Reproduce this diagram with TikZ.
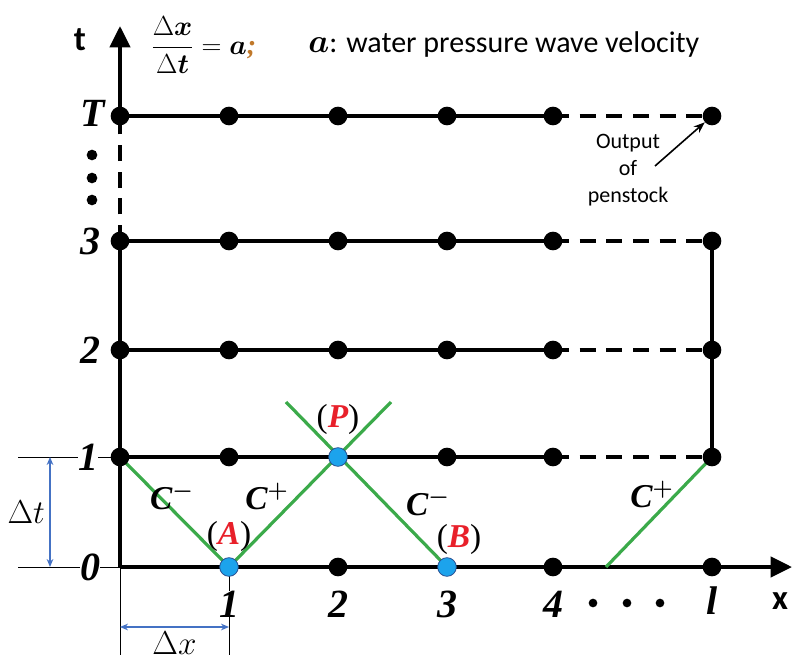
\documentclass[tikz,border=0pt]{standalone}
\usepackage{amsmath}
\usepackage{fontspec}
\usepackage{bm}
\setmainfont{Liberation Serif}
\newfontfamily\calib{Carlito}
\usetikzlibrary{arrows.meta,positioning}
\definecolor{hitblue}{HTML}{1CA3EC}
\definecolor{hitedge}{HTML}{2A4D8F}
\definecolor{charline}{HTML}{3BAA4A}
\definecolor{dimblue}{HTML}{4472C4}
\definecolor{semiorange}{HTML}{C0782A}
\definecolor{ptred}{HTML}{E8202A}

\begin{document}
\begin{tikzpicture}[
  x=0.75pt, y=-0.75pt,
  >=Stealth,
  grid/.style={line width=3pt},
  gap/.style={line width=3pt, dash pattern=on 12pt off 8pt},
  char/.style={draw=charline, line width=2.4pt},
  ext/.style={line width=0.6pt},
  dim/.style={draw=dimblue, line width=0.9pt, {Stealth[length=6pt,width=5pt]}-{Stealth[length=6pt,width=5pt]}},
  dot/.style={circle, fill=black, inner sep=0pt, minimum size=14pt},
  hit/.style={circle, fill=hitblue, draw=hitedge, line width=0.6pt, inner sep=0pt, minimum size=14pt},
  smalldot/.style={circle, fill=black, inner sep=0pt, minimum size=6.5pt},
  numlab/.style={font=\fontsize{30}{32}\selectfont\bfseries\itshape, inner sep=0pt},
  chlab/.style={font=\fontsize{25}{27}\selectfont\bfseries\itshape},
  ptlab/.style={font=\fontsize{25}{27}\selectfont},
  dimlab/.style={font=\fontsize{23}{25}\selectfont},
  sanslab/.style={font=\calib\fontsize{22.5}{25}\selectfont}
]
  \useasboundingbox (0,0) rectangle (794,661);

  % grid points
  \foreach \c/\xx in {0/120,1/229,2/338,3/447,4/553,l/712}
    \foreach \r/\yy in {0/567,1/457,2/350,3/241,T/116}
      \coordinate (g-\c-\r) at (\xx,\yy);
  \coordinate (ttip) at (120,26);
  \coordinate (xtip) at (792,567);
  \coordinate (ltop) at (712,235);

  % axes
  \draw[grid] (g-0-0) -- (g-0-3);
  \draw[gap] (g-0-3) -- (g-0-T);
  \draw[grid, -{Triangle[length=16pt,width=15pt]}] (g-0-T) -- (ttip);
  \draw[grid, -{Triangle[length=16pt,width=15pt]}] (g-0-0) -- (xtip);

  % time levels
  \foreach \r in {1,2,3,T} {
    \draw[grid] (g-0-\r) -- (g-4-\r);
    \draw[gap] (g-4-\r) -- (g-l-\r);
  }
  \draw[grid] (g-l-1) -- (ltop);

  % characteristics
  \coordinate (pl) at (286,402);
  \coordinate (pr) at (391,402);
  \coordinate (q) at (606,567);
  \draw[char] (g-0-1) -- (g-1-0) -- (pr);
  \draw[char] (pl) -- (g-3-0);
  \draw[char] (q) -- (g-l-1);

  % dimensions
  \coordinate (e1) at (18,457);
  \coordinate (e0) at (18,567);
  \coordinate (dt1) at (50,457);
  \coordinate (dt0) at (50,567);
  \coordinate (dx0) at (120,655);
  \coordinate (dx1) at (229,655);
  \coordinate (dxa) at (120,627);
  \coordinate (dxb) at (229,627);
  \draw[ext] (e1) -- (g-0-1);
  \draw[ext] (e0) -- (g-0-0);
  \draw[ext] (g-0-0) -- (dx0);
  \draw[ext] (g-1-0) -- (dx1);
  \draw[dim] (dt1) -- node[left=0pt, dimlab] (dtlab) {$\Delta t$} (dt0);
  \draw[dim] (dxa) -- node[below=0pt, dimlab] (dxlab) {$\Delta x$} (dxb);

  % grid nodes
  \foreach \r/\cs in {0/{2,4,l},1/{0,1,3,4,l},2/{0,1,2,3,4,l},3/{0,1,2,3,4,l},T/{0,1,2,3,4,l}}
    \foreach \c in \cs
      \node[dot] (d-\c-\r) at (g-\c-\r) {};
  \node[hit] (A) at (g-1-0) {};
  \node[hit] (B) at (g-3-0) {};
  \node[hit] (P) at (g-2-1) {};

  % labels on t
  \node[numlab] (lab-T) at (93,113) {T};
  \node[numlab] (lab-3) at (90,241) {3};
  \node[numlab] (lab-2) at (90,350) {2};
  \node[numlab, fill=white] (lab-1) at (88,457) {1};
  \node[numlab, fill=white] (lab-0) at (90,567) {0};
  \foreach \i/\yy in {1/155,2/178,3/200}
    \node[smalldot, minimum size=8pt] (td\i) at (92,\yy) {};

  % labels on x
  \node[numlab, fill=white] (xl-1) at (229,604) {1};
  \node[numlab] (xl-2) at (338,604) {2};
  \node[numlab] (xl-3) at (447,604) {3};
  \node[numlab] (xl-4) at (553,604) {4};
  \node[numlab] (xl-l) at (712,601) {l};
  \foreach \i/\xx in {1/593,2/627,3/660}
    \node[smalldot] (xd\i) at (\xx,603) {};
  \node[font=\calib\fontsize{26}{28}\selectfont\bfseries] (xname) at (780,601) {x};
  \node[font=\calib\fontsize{26}{28}\selectfont\bfseries] (tname) at (80,40) {t};

  % characteristic names
  \node[chlab] (cm1) at (172,496) {C$^{\bm{-}}$};
  \node[chlab] (cp1) at (267,496) {C$^{\bm{+}}$};
  \node[chlab] (cm2) at (428,502) {C$^{\bm{-}}$};
  \node[chlab] (cp2) at (652,494) {C$^{\bm{+}}$};
  \node[ptlab] (Alab) at (229,536) {(\textcolor{ptred}{\bfseries\itshape A})};
  \node[ptlab] (Plab) at (338,419) {(\textcolor{ptred}{\bfseries\itshape P})};
  \node[ptlab] (Blab) at (459,539) {(\textcolor{ptred}{\bfseries\itshape B})};

  % header
  \node[anchor=west, font=\fontsize{21}{23}\selectfont, inner sep=0pt] (ratio) at (151,45)
    {$\dfrac{\Delta\bm{x}}{\Delta\bm{t}} = \bm{a}$\textcolor{semiorange}{\bfseries\itshape ;}};
  \node[anchor=west, sanslab, inner sep=0pt] (wave) at (308,44)
    {{\fontsize{23}{25}\selectfont$\bm{a}$}: water pressure wave velocity};

  % output note
  \node[align=center, font=\calib\fontsize{16.5}{20}\selectfont] (outnote) at (628,170)
    {Output\\of\\penstock};
  \coordinate (tail) at (655,166);
  \draw[->, line width=1.2pt] (tail) -- (d-l-T);
\end{tikzpicture}
\end{document}
